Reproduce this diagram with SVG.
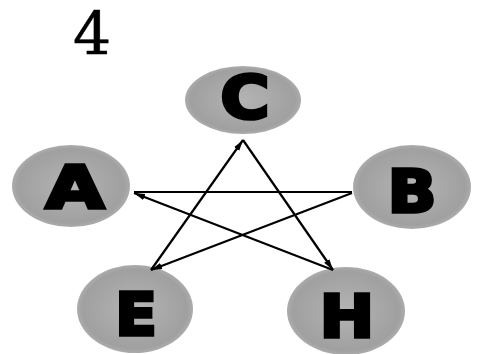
<svg xmlns="http://www.w3.org/2000/svg" width="481" height="354" viewBox="0 0 481 354">
<defs>
<style>
.node{fill:url(#g);}
.lbl{font-family:"DejaVu Sans",sans-serif;font-weight:bold;font-size:58px;fill:#000;stroke:#000;stroke-width:3.5;text-anchor:middle;}
.edge{stroke:#000;stroke-width:2.2;fill:none;}
</style>
<radialGradient id="g" cx="0.5" cy="0.5" r="0.5">
<stop offset="0" stop-color="#b4b4b4"/>
<stop offset="0.9" stop-color="#a0a0a0"/>
<stop offset="1" stop-color="#acacac"/>
</radialGradient>
<marker id="ah" markerUnits="userSpaceOnUse" markerWidth="12" markerHeight="8" refX="11" refY="4" orient="auto">
<path d="M0,0.8 L11,4 L0,7.2 Z" fill="#000"/>
</marker>
</defs>
<rect width="481" height="354" fill="#fff"/>
<text x="92" y="55" font-family="DejaVu Serif, serif" font-size="60" text-anchor="middle" fill="#000" stroke="#000" stroke-width="0.5">4</text>
<g id="C"><ellipse class="node" cx="243" cy="100" rx="58" ry="34"/><text class="lbl" x="245" y="118" transform="translate(245 0) scale(1.15 1) translate(-245 0)">C</text></g>
<g id="A"><ellipse class="node" cx="71" cy="186" rx="59" ry="41"/><text class="lbl" x="75" y="208" transform="translate(75 0) scale(1.3 1) translate(-75 0)">A</text></g>
<g id="B"><ellipse class="node" cx="412" cy="187" rx="59" ry="42"/><text class="lbl" x="412" y="212" transform="translate(412 0) scale(1.1 1) translate(-412 0)">B</text></g>
<g id="E"><ellipse class="node" cx="135" cy="309" rx="58" ry="44"/><text class="lbl" x="136" y="335" transform="translate(136 0) scale(1.05 1) translate(-136 0)">E</text></g>
<g id="H"><ellipse class="node" cx="346" cy="311" rx="59" ry="44"/><text class="lbl" x="347" y="337" transform="translate(347 0) scale(1.12 1) translate(-347 0)">H</text></g>
<g id="edges">
<line class="edge" x1="134" y1="192" x2="352" y2="192"/>
<line class="edge" x1="352" y1="193" x2="151" y2="270" marker-end="url(#ah)"/>
<line class="edge" x1="151" y1="270" x2="243" y2="140" marker-end="url(#ah)"/>
<line class="edge" x1="243" y1="140" x2="333" y2="270" marker-end="url(#ah)"/>
<line class="edge" x1="333" y1="270" x2="134" y2="193" marker-end="url(#ah)"/>
</g>
</svg>
